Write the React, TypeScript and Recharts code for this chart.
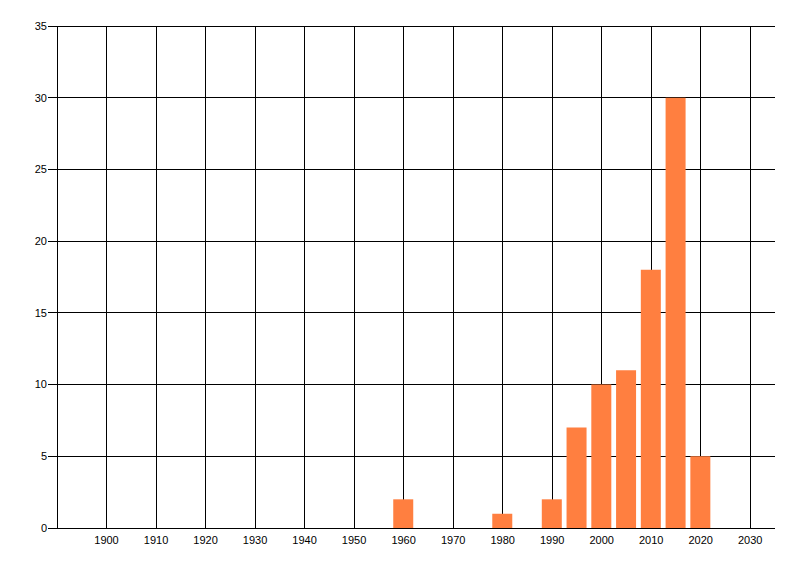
import React from 'react';
import { BarChart, Bar, XAxis, YAxis, CartesianGrid } from 'recharts';

const years = [1960, 1980, 1990, 1995, 2000, 2005, 2010, 2015, 2020];
const counts = [2, 1, 2, 7, 10, 11, 18, 30, 5];
const xTicks = [1900, 1910, 1920, 1930, 1940, 1950, 1960, 1970, 1980, 1990, 2000, 2010, 2020, 2030];
const yTicks = [0, 5, 10, 15, 20, 25, 30, 35];
const xDomain = [1890, 2035];

const data = years.map((y, i) => ({ year: y, count: counts[i] }));

const tickStyle = { fill: '#000', fontSize: 11, fontFamily: 'Liberation Sans, Arial, sans-serif' };

function verticalGen(props: any) {
  const sc = props?.xAxis?.scale;
  if (typeof sc === 'function') return xTicks.map((t) => sc(t));
  if (sc && typeof sc.map === 'function') {
    try {
      return xTicks.map((t) => sc.map(t));
    } catch (e) {}
  }
  const off = props.offset;
  return xTicks.map(
    (t) => off.left + ((t - xDomain[0]) / (xDomain[1] - xDomain[0])) * off.width
  );
}

export default function App() {
  return (
    <div style={{ position: 'absolute', left: 0, top: 0, width: 800, height: 576, background: '#fff' }}>
      <BarChart
        width={800}
        height={576}
        data={data}
        margin={{ top: 26, right: 25, bottom: 18, left: 0 }}
      >
        <CartesianGrid
          stroke="#000"
          strokeWidth={1}
          shapeRendering="crispEdges"
          verticalCoordinatesGenerator={verticalGen}
        />
        <XAxis
          dataKey="year"
          type="number"
          domain={xDomain}
          ticks={xTicks}
          interval={0}
          tickLine={false}
          tickSize={0}
          tickMargin={8}
          axisLine={{ stroke: '#000', shapeRendering: 'crispEdges' }}
          tick={tickStyle}
          height={30}
          allowDataOverflow
        />
        <YAxis
          type="number"
          domain={[0, 35]}
          ticks={yTicks}
          interval={0}
          width={57}
          tickSize={9}
          tickMargin={1}
          tickLine={{ stroke: '#000', shapeRendering: 'crispEdges' }}
          axisLine={{ stroke: '#000', shapeRendering: 'crispEdges' }}
          tick={tickStyle}
        />
        <Bar dataKey="count" fill="#FF7F40" barSize={20} isAnimationActive={false} />
      </BarChart>
    </div>
  );
}
